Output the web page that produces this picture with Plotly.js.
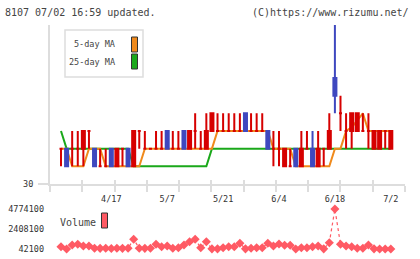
<!DOCTYPE html>
<html><head><meta charset="utf-8">
<script src="https://cdn.plot.ly/plotly-3.0.1.min.js"></script>
<style>html,body{margin:0;padding:0;background:#fff}#chart{width:420px;height:259px}</style>
</head><body><div id="chart"></div>
<script>
// ---- data ----
const dayIndex = [0,1,2,3,4,5,6,7,8,9,10,11,12,13,14,15,16,17,18,19,20,21,22,23,24,25,26,27,28,29,30,31,32,33,34,35,36,37,38,39,40,41,42,43,44,45,46,47,48,49,50,51,52,53,54,55,56,57,58,59];
const openP  = [32,32,32,32,32,33,32,31,31,32,31,32,32,31,33,32,32,32,32,33,32,32,33,32,33,32,32,33,33,33,33,33,33,34,33,33,33,33,32,32,31,31,32,31,32,32,31,32,32,36,34,33,33,33,33,33,32,32,33,32];
const highP  = [32,32,33,33,33,33,32,32,32,32,32,32,32,33,33,33,32,33,33,33,33,33,33,33,34,33,34,34,34,34,34,34,34,34,34,34,34,33,33,33,32,32,32,33,33,33,33,32,34,39,35,34,34,34,34,34,33,33,33,33];
const lowP   = [31,31,31,31,31,32,31,31,31,31,31,31,31,31,32,32,32,32,32,32,32,32,32,32,32,32,32,33,33,33,33,33,33,33,33,33,33,32,31,31,31,31,31,31,32,31,31,31,32,34,33,32,32,33,33,32,32,32,32,32];
const closeP = [32,31,32,32,33,33,31,31,31,31,32,32,31,33,33,32,32,32,32,32,32,32,32,33,33,32,33,34,33,33,33,33,33,33,33,33,33,32,32,32,32,31,31,32,32,31,32,32,33,35,34,33,34,34,33,33,33,33,33,33];
const ma5    = [32,32,31,31,31,32,32,32,31,31,31,31,31,31,31,32,32,32,32,32,32,32,32,32,32,32,32,32,33,33,33,33,33,33,33,33,33,33,32,32,32,32,31,31,31,31,31,31,31,32,32,33,33.2,33.6,34,33,33,33,33,33];
const ma25   = [33,32,32,32,32,32,32,32,32,32,32,32,32,31,31,31,31,31,31,31,31,31,31,31,31,31,31,32,32,32,32,32,32,32,32,32,32,32,32,32,32,32,32,32,32,32,32,32,32,32,32,32,32,32,32,32,32,32,32,32];
const volume = [314000,42100,515000,598000,397000,397000,125000,118000,131000,109000,125000,120000,134000,1190000,125000,118000,125000,598000,314000,397000,125000,196000,515000,906000,1190000,196000,906000,60000,60000,196000,314000,314000,716000,60000,125000,196000,196000,716000,397000,634000,480000,480000,42100,196000,196000,314000,397000,60000,787000,4774100,598000,397000,314000,125000,125000,515000,60000,42100,42100,42100];
const labelIndex = [9,19,29,39,49,59];
const labelText  = ['4/17','5/7','5/21','6/4','6/18','7/2'];
const priceTicks = [30];
const volTicks   = [42100,2408100,4774100];
const titleText = '8107 07/02 16:59 updated.';
const creditText = '(C)https://www.rizumu.net/';

// ---- styling / layout helpers ----
const RED = '#d60000', BLUE = '#3f48bf', ORANGE = '#f08a1c', GREEN = '#1aa81a', PINK = '#ff5a64';
const MONO = 'DejaVu Sans Mono';
const L = 50, R = 405, T = 25, B = 249;
const px = x => (x - L) / (R - L);
const py = y => (B - y) / (B - T);
const xRange = [-1.968, 61.54];
const xTicks = [];
for (let k = 0; k < 12; k++) xTicks.push(xRange[0] + k * (xRange[1] - xRange[0] - 0.02) / 11);

function pick(arr, idx) { return idx.map(i => arr[i]); }
const blueIdx = dayIndex.filter(i => closeP[i] < openP[i]);
const redIdx  = dayIndex.filter(i => closeP[i] >= openP[i]);
function candle(idx, color) {
  return {
    type: 'candlestick', x: idx, open: pick(openP, idx), high: pick(highP, idx),
    low: pick(lowP, idx), close: pick(closeP, idx), xaxis: 'x3', yaxis: 'y3',
    increasing: {line: {color: color, width: 2}, fillcolor: color},
    decreasing: {line: {color: color, width: 2}, fillcolor: color},
    whiskerwidth: 0, hoverinfo: 'skip', showlegend: false
  };
}

const traces = [
  {type: 'scatter', mode: 'lines', x: dayIndex, y: ma25, xaxis: 'x', yaxis: 'y',
   line: {color: GREEN, width: 2}, hoverinfo: 'skip', showlegend: false},
  {type: 'scatter', mode: 'lines', x: dayIndex, y: ma5, xaxis: 'x', yaxis: 'y',
   line: {color: ORANGE, width: 2}, hoverinfo: 'skip', showlegend: false},
  candle(redIdx, RED),
  candle(blueIdx, BLUE),
  {type: 'scatter', mode: 'lines+markers', x: dayIndex, y: volume, xaxis: 'x2', yaxis: 'y2',
   line: {color: PINK, width: 1.2, dash: 'dot'}, marker: {symbol: 'diamond', size: 7, color: PINK},
   cliponaxis: false, hoverinfo: 'skip', showlegend: false}
];

const axFont = {family: MONO, size: 8.5, color: '#333'};
const layout = {
  width: 420, height: 259, margin: {l: L, r: 420 - R, t: T, b: 259 - B},
  paper_bgcolor: '#fff', plot_bgcolor: '#fff', showlegend: false,
  boxgap: 0.46, boxgroupgap: 0,
  title: {text: titleText, x: 5 / 420, xanchor: 'left', xref: 'container',
          y: 1 - 12 / 259, yanchor: 'middle', yref: 'container',
          font: {family: MONO, size: 10, color: '#444'}},
  xaxis: {domain: [0, 1], anchor: 'y', range: xRange, tickmode: 'array', tickvals: xTicks,
          showticklabels: false, ticks: 'outside', ticklen: 6, tickwidth: 2, tickcolor: '#ddd',
          showline: true, linecolor: '#ddd', linewidth: 2, showgrid: false, zeroline: false,
          rangeslider: {visible: false}, fixedrange: true},
  yaxis: {domain: [py(184), 1], anchor: 'x', range: [30, 39], tickmode: 'array', tickvals: priceTicks,
          ticktext: priceTicks.map(String), ticks: 'outside', ticklen: 10, tickwidth: 2, tickcolor: '#ddd',
          showline: true, linecolor: '#ddd', linewidth: 2, showgrid: false, zeroline: false,
          tickfont: axFont, ticklabelstandoff: 3, fixedrange: true},
  xaxis3: {overlaying: 'x', anchor: 'y3', range: xRange, tickmode: 'array', tickvals: xTicks,
           showticklabels: false, ticks: 'inside', ticklen: 4, tickwidth: 2, tickcolor: '#ddd',
           showline: false, showgrid: false, zeroline: false, rangeslider: {visible: false}},
  yaxis3: {overlaying: 'y', anchor: 'x3', range: [30, 39], visible: false, showgrid: false, zeroline: false},
  xaxis2: {domain: [0, 1], anchor: 'y2', side: 'top', range: xRange, tickmode: 'array',
           tickvals: labelIndex, ticktext: labelText, ticks: '', showline: false, showgrid: false,
           zeroline: false, tickfont: axFont, ticklabelstandoff: 4, rangeslider: {visible: false}},
  yaxis2: {domain: [0, py(209)], anchor: 'x2', range: [volTicks[0], volTicks[2]], tickmode: 'array',
           tickvals: volTicks, ticktext: volTicks.map(String), ticks: '', showline: false,
           showgrid: false, zeroline: false, tickfont: axFont, ticklabelstandoff: 5},
  shapes: [
    {type: 'rect', xref: 'paper', yref: 'paper', x0: px(65), x1: px(143), y0: py(77), y1: py(30),
     line: {color: '#ddd', width: 1.5}, fillcolor: '#fff', layer: 'above'},
    {type: 'rect', xref: 'paper', yref: 'paper', x0: px(131.5), x1: px(137.5), y0: py(52), y1: py(37),
     line: {color: '#333', width: 1}, fillcolor: ORANGE, layer: 'above'},
    {type: 'rect', xref: 'paper', yref: 'paper', x0: px(131.5), x1: px(137.5), y0: py(69), y1: py(54),
     line: {color: '#333', width: 1}, fillcolor: GREEN, layer: 'above'},
    {type: 'rect', xref: 'paper', yref: 'paper', x0: px(101.5), x1: px(107.5), y0: py(228), y1: py(213),
     line: {color: '#333', width: 1}, fillcolor: PINK, layer: 'above'}
  ],
  annotations: [
    {text: creditText, xref: 'paper', yref: 'paper', x: px(411), y: py(12), xanchor: 'right', yanchor: 'middle',
     showarrow: false, font: {family: MONO, size: 10, color: '#444'}},
    {text: '5-day MA', xref: 'paper', yref: 'paper', x: px(117), y: py(44.5), xanchor: 'right', yanchor: 'middle',
     showarrow: false, font: {family: MONO, size: 8.5, color: '#444'}},
    {text: '25-day MA', xref: 'paper', yref: 'paper', x: px(117), y: py(61.5), xanchor: 'right', yanchor: 'middle',
     showarrow: false, font: {family: MONO, size: 8.5, color: '#444'}},
    {text: 'Volume', xref: 'paper', yref: 'paper', x: px(58), y: py(222), xanchor: 'left', yanchor: 'middle',
     showarrow: false, font: {family: MONO, size: 10, color: '#444'}}
  ]
};

Plotly.newPlot('chart', traces, layout, {staticPlot: true, displayModeBar: false});
</script>
</body></html>
